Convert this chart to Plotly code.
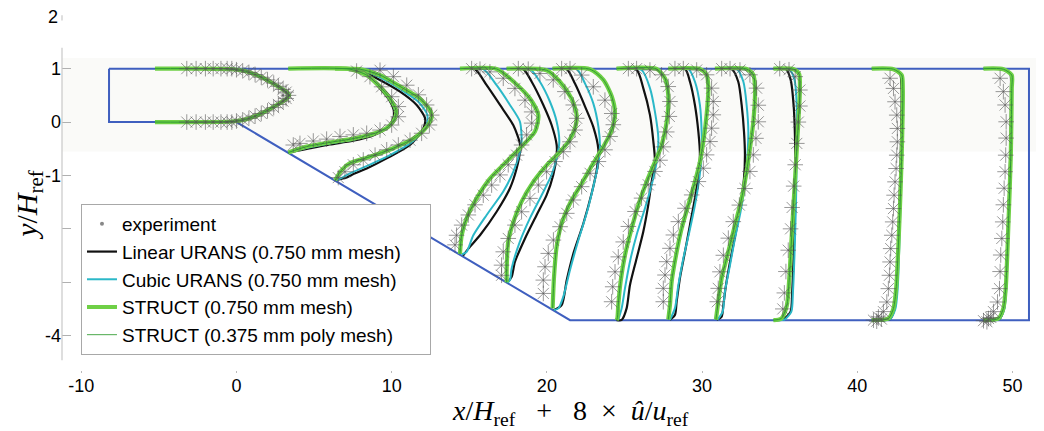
import plotly.graph_objects as go

# ---------------- geometry (channel outline) ----------------
wall_x = [-8.21, -8.21, 0.0, 21.49, 51.06, 51.06, -8.21]
wall_y = [1.0, 0.0, 0.0, -3.71, -3.71, 1.0, 1.0]

# ---------------- profiles: plotted x = x/H + 8*u/u_ref, y = y/H ----------------
# STRUCT (0.750 mm mesh)
struct_x = [
    [-5.25, -0.3, 0.6, 1.6, 2.6, 3.2, 3.4, 3.2, 2.6, 1.6, 0.6, -0.3, -5.25],
    [3.34, 7.31, 8.39, 9.25, 9.89, 10.28, 10.21, 9.78, 8.93, 7.53, 6.03, 4.52, 3.34],
    [6.35, 7.96, 9.25, 10.75, 11.82, 12.47, 12.58, 12.25, 11.4, 10.1, 8.6, 7.31, 6.78, 6.35],
    [14.40, 16.76, 17.84, 18.91, 19.45, 19.23, 18.26, 17.41, 16.33, 15.47, 14.83, 14.51, 14.40],
    [17.41, 19.98, 20.84, 21.59, 21.92, 21.81, 21.38, 20.73, 19.98, 19.12, 18.37, 17.84, 17.51, 17.41, 17.41],
    [20.37, 22.78, 23.64, 24.18, 24.39, 24.18, 23.64, 22.99, 22.24, 21.49, 20.95, 20.63, 20.46, 20.37],
    [24.49, 27.07, 27.61, 27.82, 27.72, 27.39, 26.96, 26.43, 25.89, 25.46, 25.03, 24.75, 24.6, 24.54, 24.49],
    [27.82, 29.86, 30.29, 30.4, 30.29, 30.08, 29.86, 29.54, 29.11, 28.68, 28.32, 28.04, 27.93, 27.82],
    [30.83, 32.87, 33.3, 33.41, 33.3, 33.08, 32.87, 32.55, 32.12, 31.69, 31.26, 31.04, 30.89],
    [34.6, 35.9, 36.25, 36.3, 36.2, 36.0, 35.8, 35.6, 35.45, 35.1, 34.6],
    [40.93, 42.33, 42.86, 42.93, 42.86, 42.71, 42.5, 42.33, 42.0, 40.93],
    [48.13, 49.41, 49.95, 49.95, 49.89, 49.74, 49.56, 49.41, 49.09, 48.13],
]
struct_y = [
    [1.0, 0.99, 0.95, 0.84, 0.68, 0.57, 0.5, 0.43, 0.32, 0.16, 0.05, 0.01, 0.0],
    [1.0, 0.99, 0.88, 0.66, 0.44, 0.22, 0.07, -0.09, -0.21, -0.31, -0.38, -0.46, -0.57],
    [1.0, 0.99, 0.88, 0.63, 0.44, 0.225, 0.10, -0.09, -0.31, -0.49, -0.65, -0.77, -0.90, -1.09],
    [1.0, 0.995, 0.76, 0.44, 0.13, -0.18, -0.49, -0.74, -1.06, -1.43, -1.80, -2.12, -2.47],
    [1.0, 0.97, 0.755, 0.44, 0.13, -0.12, -0.37, -0.59, -0.81, -1.12, -1.49, -1.87, -2.24, -2.74, -3.0],
    [1.0, 0.99, 0.79, 0.48, 0.16, -0.15, -0.46, -0.77, -1.15, -1.52, -1.90, -2.33, -2.90, -3.49],
    [1.0, 0.995, 0.815, 0.505, 0.005, -0.435, -0.745, -1.115, -1.555, -1.995, -2.495, -2.985, -3.425, -3.675, -3.71],
    [1.0, 0.995, 0.885, 0.635, 0.135, -0.365, -0.745, -1.115, -1.555, -1.995, -2.495, -2.985, -3.425, -3.70],
    [1.0, 0.995, 0.885, 0.635, 0.005, -0.495, -0.925, -1.425, -1.925, -2.425, -2.925, -3.365, -3.70],
    [1.0, 0.99, 0.9, 0.6, 0.0, -1.0, -2.0, -3.0, -3.45, -3.68, -3.71],
    [1.0, 0.99, 0.88, 0.63, -0.62, -1.87, -3.12, -3.49, -3.68, -3.71],
    [1.0, 0.99, 0.88, 0.63, -0.62, -1.87, -3.12, -3.49, -3.68, -3.71],
]

# Linear URANS (0.750 mm mesh)
linear_x = [
    [-5.25, -0.3, 0.6, 1.6, 2.6, 3.2, 3.4, 3.2, 2.6, 1.6, 0.6, -0.3, -5.25],
    [3.34, 7.5, 8.45, 9.25, 9.85, 10.15, 10.05, 9.6, 8.8, 7.5, 6.0, 4.6, 3.5, 3.34],
    [6.35, 7.85, 9.03, 10.54, 11.61, 12.15, 12.04, 11.18, 9.68, 8.39, 7.42, 7.1, 6.4],
    [14.40, 15.37, 16.12, 16.98, 17.84, 18.26, 18.26, 18.05, 17.62, 16.76, 15.69, 14.94, 14.6],
    [17.41, 18.48, 19.02, 19.77, 20.31, 20.63, 20.63, 20.41, 19.98, 19.34, 18.59, 17.94, 17.73, 17.45],
    [20.37, 21.28, 21.81, 22.46, 22.99, 23.32, 23.21, 22.89, 22.35, 21.71, 21.28, 20.95, 20.45],
    [24.49, 25.78, 26.21, 26.64, 26.86, 26.96, 26.75, 26.53, 26.21, 25.78, 25.35, 25.14, 24.82, 24.49],
    [27.82, 28.9, 29.22, 29.54, 29.76, 29.86, 29.76, 29.54, 29.22, 28.9, 28.57, 28.36, 28.25, 27.93],
    [30.83, 31.9, 32.33, 32.55, 32.7, 32.76, 32.7, 32.48, 32.18, 31.84, 31.54, 31.37, 31.26, 30.94],
    [34.6, 35.4, 35.7, 35.9, 36.0, 36.0, 35.9, 35.8, 35.7, 35.2, 34.6],
    [40.93, 42.2, 42.75, 42.85, 42.8, 42.68, 42.52, 42.4, 42.1, 40.93],
    [48.13, 49.3, 49.85, 49.9, 49.85, 49.72, 49.58, 49.45, 49.15, 48.13],
]
linear_y = [
    [1.0, 0.99, 0.95, 0.84, 0.68, 0.57, 0.5, 0.43, 0.32, 0.16, 0.05, 0.01, 0.0],
    [1.0, 0.99, 0.86, 0.63, 0.41, 0.2, 0.03, -0.13, -0.25, -0.35, -0.42, -0.5, -0.56, -0.58],
    [1.0, 0.99, 0.82, 0.57, 0.32, 0.07, -0.12, -0.43, -0.68, -0.87, -0.99, -1.04, -1.09],
    [1.0, 0.99, 0.69, 0.32, -0.06, -0.40, -0.56, -0.87, -1.24, -1.68, -2.12, -2.37, -2.50],
    [1.0, 0.99, 0.755, 0.32, -0.06, -0.43, -0.62, -0.99, -1.37, -1.74, -2.18, -2.62, -2.90, -3.01],
    [1.0, 0.99, 0.72, 0.29, -0.09, -0.52, -0.90, -1.33, -1.90, -2.46, -2.96, -3.43, -3.52],
    [1.0, 0.975, 0.635, 0.135, -0.365, -0.745, -1.115, -1.555, -2.055, -2.555, -3.055, -3.485, -3.705, -3.71],
    [1.0, 0.995, 0.755, 0.315, -0.185, -0.615, -0.995, -1.425, -1.925, -2.425, -2.925, -3.365, -3.615, -3.705],
    [1.0, 0.995, 0.755, 0.315, -0.185, -0.615, -1.055, -1.555, -2.055, -2.555, -3.055, -3.425, -3.645, -3.705],
    [1.0, 0.99, 0.8, 0.3, -0.5, -1.5, -2.5, -3.2, -3.55, -3.7, -3.71],
    [1.0, 0.99, 0.9, 0.63, -0.62, -1.87, -3.12, -3.5, -3.69, -3.71],
    [1.0, 0.99, 0.9, 0.63, -0.62, -1.87, -3.12, -3.5, -3.69, -3.71],
]

# Cubic URANS (0.750 mm mesh)
cubic_x = [
    [-5.25, -0.3, 0.6, 1.6, 2.6, 3.2, 3.4, 3.2, 2.6, 1.6, 0.6, -0.3, -5.25],
    [3.34, 7.4, 8.42, 9.25, 9.87, 10.22, 10.13, 9.7, 8.87, 7.5, 6.0, 4.55, 3.34],
    [6.35, 7.92, 9.14, 10.64, 11.72, 12.3, 12.21, 11.29, 9.89, 8.5, 7.31, 6.88, 6.4],
    [14.40, 15.9, 16.76, 17.62, 18.26, 18.37, 18.26, 17.84, 17.19, 16.12, 15.26, 14.83, 14.5],
    [17.41, 18.91, 19.55, 20.2, 20.63, 20.8, 20.67, 20.3, 19.66, 18.91, 18.26, 17.73, 17.62, 17.45],
    [20.37, 21.92, 22.46, 22.99, 23.32, 23.42, 23.32, 22.99, 22.56, 22.03, 21.49, 21.06, 20.74, 20.45],
    [24.49, 26.1, 26.64, 26.96, 27.18, 27.07, 26.75, 26.32, 25.78, 25.35, 25.03, 24.82, 24.6],
    [27.82, 29.11, 29.54, 29.86, 29.97, 29.97, 29.82, 29.54, 29.18, 28.79, 28.47, 28.25, 27.93],
    [30.83, 32.23, 32.66, 32.87, 32.98, 32.91, 32.76, 32.48, 32.12, 31.8, 31.47, 31.32, 30.98],
    [34.6, 35.6, 35.95, 36.1, 36.1, 36.05, 35.95, 35.85, 35.75, 35.3, 34.6],
    [40.93, 42.25, 42.8, 42.9, 42.85, 42.75, 42.6, 42.45, 42.1, 40.93],
    [48.13, 49.35, 49.9, 49.93, 49.87, 49.75, 49.6, 49.47, 49.15, 48.13],
]
cubic_y = [
    [1.0, 0.99, 0.95, 0.84, 0.68, 0.57, 0.5, 0.43, 0.32, 0.16, 0.05, 0.01, 0.0],
    [1.0, 0.99, 0.87, 0.645, 0.425, 0.21, 0.05, -0.11, -0.23, -0.33, -0.4, -0.48, -0.57],
    [1.0, 0.99, 0.85, 0.60, 0.38, 0.13, -0.09, -0.38, -0.62, -0.81, -0.96, -1.03, -1.09],
    [1.0, 0.99, 0.69, 0.32, 0.01, -0.37, -0.56, -0.93, -1.30, -1.74, -2.12, -2.43, -2.48],
    [1.0, 0.99, 0.755, 0.38, 0.007, -0.37, -0.62, -0.99, -1.37, -1.80, -2.24, -2.74, -2.96, -3.01],
    [1.0, 0.99, 0.72, 0.35, -0.09, -0.46, -0.77, -1.21, -1.71, -2.21, -2.77, -3.27, -3.49, -3.52],
    [1.0, 0.975, 0.635, 0.195, -0.305, -0.745, -1.175, -1.615, -2.115, -2.615, -3.115, -3.485, -3.705],
    [1.0, 0.995, 0.755, 0.315, -0.185, -0.615, -1.055, -1.555, -2.055, -2.555, -3.055, -3.485, -3.705],
    [1.0, 0.995, 0.755, 0.315, -0.185, -0.675, -1.175, -1.675, -2.175, -2.675, -3.175, -3.555, -3.705],
    [1.0, 0.99, 0.8, 0.3, -0.5, -1.5, -2.5, -3.2, -3.55, -3.7, -3.71],
    [1.0, 0.99, 0.89, 0.63, -0.62, -1.87, -3.12, -3.5, -3.69, -3.71],
    [1.0, 0.99, 0.89, 0.63, -0.62, -1.87, -3.12, -3.5, -3.69, -3.71],
]

# STRUCT (0.375 mm poly mesh) -- lies on top of the 0.750 mm STRUCT result
fine_x = struct_x
fine_y = struct_y

# experiment
exp_x = [
    [-3.2, -2.6, -2.0, -1.5, -1.0, -0.6, -0.3, 0.0, 0.4, 0.8, 1.2, 1.6, 2.0, 2.4, 2.7, 3.0, 3.2, 3.35,
     3.2, 3.0, 2.7, 2.4, 2.0, 1.6, 1.2, 0.8, 0.4, 0.0, -0.3, -0.6, -1.0, -1.5, -2.0, -2.6, -3.2],
    [7.74, 8.60, 9.35, 10.0, 10.43, 10.43, 10.0, 9.25, 8.39, 7.53, 6.67, 5.81, 4.95, 4.09, 3.66],
    [9.25, 10.11, 10.97, 11.72, 12.25, 12.58, 12.43, 11.93, 11.18, 10.43, 9.68, 8.93, 8.17, 7.53, 6.99, 6.56],
    [15.15, 15.69, 16.33, 17.19, 17.94, 18.59, 19.02, 19.02, 18.69, 18.37, 18.05, 17.51, 16.98, 16.44,
     15.90, 15.37, 14.94, 14.51, 14.18, 14.08],
    [18.16, 18.8, 19.55, 20.41, 21.16, 21.7, 21.92, 21.81, 21.49, 21.06, 20.52, 19.98, 19.45, 18.91,
     18.37, 17.94, 17.51, 17.19, 17.08, 17.08],
    [20.95, 21.49, 22.24, 22.99, 23.74, 24.18, 24.28, 24.07, 23.74, 23.32, 22.78, 22.24, 21.71, 21.28,
     20.85, 20.42, 20.09, 19.88, 19.77, 19.77],
    [25.25, 25.78, 26.64, 27.39, 27.82, 27.93, 27.89, 27.72, 27.5, 27.29, 26.96, 26.53, 26.1, 25.68,
     25.25, 24.92, 24.6, 24.39, 24.24, 24.17],
    [28.25, 28.79, 29.65, 30.29, 30.61, 30.72, 30.72, 30.61, 30.51, 30.29, 30.08, 29.76, 29.33, 28.9,
     28.47, 28.15, 27.93, 27.72, 27.61, 27.5, 27.5],
    [31.26, 31.8, 32.44, 33.08, 33.51, 33.62, 33.62, 33.47, 33.3, 33.08, 32.76, 32.4, 32.01, 31.69,
     31.37, 31.15, 31.04, 30.98],
    [35.0, 35.6, 36.0, 36.3, 36.3, 36.2, 36.1, 36.0, 35.9, 35.8, 35.7, 35.55, 35.4, 35.3, 35.2],
    [42.11, 42.33, 42.43, 42.54, 42.58, 42.58, 42.54, 42.5, 42.43, 42.37, 42.33, 42.28, 42.22, 42.15,
     42.11, 42.07, 42.0, 41.9, 41.68, 41.36, 41.04, 41.25, 41.55],
    [49.2, 49.41, 49.52, 49.59, 49.59, 49.56, 49.52, 49.46, 49.41, 49.37, 49.31, 49.24, 49.2, 49.16,
     49.03, 48.77, 48.45, 48.13, 48.35, 48.6],
]
exp_y = [
    [1, 1, 1, 1, 1, 1, 1, 0.98, 0.96, 0.93, 0.89, 0.84, 0.79, 0.73, 0.67, 0.61, 0.56, 0.5,
     0.44, 0.39, 0.33, 0.27, 0.21, 0.16, 0.11, 0.07, 0.04, 0.02, 0, 0, 0, 0, 0, 0, 0],
    [0.955, 0.85, 0.66, 0.475, 0.29, 0.10, -0.056, -0.15, -0.21, -0.24, -0.27, -0.32, -0.355, -0.40, -0.43],
    [0.97, 0.85, 0.69, 0.51, 0.32, 0.13, -0.055, -0.21, -0.34, -0.43, -0.52, -0.62, -0.71, -0.80, -0.93, -1.04],
    [1.0, 0.99, 0.94, 0.82, 0.63, 0.41, 0.19, -0.02, -0.24, -0.43, -0.62, -0.80, -0.99, -1.18,
     -1.37, -1.55, -1.74, -1.93, -2.12, -2.30],
    [1.0, 0.99, 0.91, 0.79, 0.57, 0.32, 0.07, -0.15, -0.37, -0.555, -0.74, -0.93, -1.18, -1.43,
     -1.68, -1.93, -2.18, -2.43, -2.68, -2.87],
    [1.0, 1.0, 0.88, 0.66, 0.41, 0.16, -0.05, -0.27, -0.52, -0.74, -0.96, -1.21, -1.46, -1.71,
     -1.96, -2.21, -2.46, -2.71, -2.96, -3.21],
    [1.0, 1.0, 0.975, 0.885, 0.665, 0.385, 0.105, -0.185, -0.465, -0.715, -0.925, -1.175, -1.425, -1.675,
     -1.955, -2.245, -2.525, -2.805, -3.085, -3.365],
    [1.0, 1.0, 0.975, 0.885, 0.635, 0.385, 0.135, -0.115, -0.365, -0.615, -0.865, -1.115, -1.365, -1.615,
     -1.865, -2.115, -2.365, -2.615, -2.865, -3.115, -3.365],
    [1.0, 1.0, 0.975, 0.885, 0.635, 0.315, 0.005, -0.305, -0.615, -0.925, -1.245, -1.555, -1.865, -2.175,
     -2.495, -2.805, -3.115, -3.365],
    [1.0, 0.98, 0.85, 0.6, 0.3, 0.0, -0.4, -0.8, -1.2, -1.6, -2.0, -2.4, -2.8, -3.2, -3.5],
    [0.82, 0.63, 0.38, 0.13, -0.12, -0.37, -0.62, -0.87, -1.12, -1.37, -1.62, -1.87, -2.12, -2.37,
     -2.62, -2.87, -3.12, -3.37, -3.55, -3.65, -3.71, -3.73, -3.69],
    [0.82, 0.57, 0.32, 0.005, -0.3, -0.62, -0.93, -1.24, -1.55, -1.87, -2.18, -2.49, -2.8, -3.12,
     -3.37, -3.55, -3.68, -3.72, -3.74, -3.66],
]

x_ticks = [-10, 0, 10, 20, 30, 40, 50]
x_ticktext = ["-10", "0", "10", "20", "30", "40", "50"]
y_ticks = [-4, -3, -2, -1, 0, 1, 2]
y_ticktext = ["-4", "", "", "-1", "0", "1", ""]
y_top_label = "2"


def join(lists):
    out = []
    for i, seg in enumerate(lists):
        if i:
            out.append(None)
        out.extend(seg)
    return out


FONT = "Liberation Sans, Arial, sans-serif"
SERIF = "Liberation Serif, DejaVu Serif, serif"
PAD = "&nbsp;" * 6

fig = go.Figure()

# faint band of the scanned original
fig.add_shape(type="rect", xref="paper", yref="y", x0=0, x1=1, y0=-0.55, y1=1.2,
              fillcolor="#fafaf8", line_width=0, layer="below")

fig.add_trace(go.Scatter(x=wall_x, y=wall_y, mode="lines", line=dict(color="#3f5fbf", width=2),
                         showlegend=False, hoverinfo="skip"))

fig.add_trace(go.Scatter(x=join(linear_x), y=join(linear_y), mode="lines",
                         line=dict(color="#111111", width=2.2, shape="spline", smoothing=0.7),
                         name="Linear URANS (0.750 mm mesh)", showlegend=False))
fig.add_trace(go.Scatter(x=join(cubic_x), y=join(cubic_y), mode="lines",
                         line=dict(color="#2bb8c8", width=2, shape="spline", smoothing=0.7),
                         name="Cubic URANS (0.750 mm mesh)", showlegend=False))
fig.add_trace(go.Scatter(x=join(struct_x), y=join(struct_y), mode="lines",
                         line=dict(color="#6fd046", width=4.2, shape="spline", smoothing=0.7),
                         name="STRUCT (0.750 mm mesh)", showlegend=False))
fig.add_trace(go.Scatter(x=join(fine_x), y=join(fine_y), mode="lines",
                         line=dict(color="#2f9a35", width=1, shape="spline", smoothing=0.7),
                         name="STRUCT (0.375 mm poly mesh)", showlegend=False))
fig.add_trace(go.Scatter(x=join(exp_x), y=join(exp_y), mode="markers",
                         marker=dict(symbol="asterisk-open", size=13, color="rgba(85,85,85,0.6)",
                                     line=dict(color="rgba(85,85,85,0.6)", width=1)),
                         name="experiment", showlegend=False))

# legend entries
fig.add_trace(go.Scatter(x=[None], y=[None], mode="markers", name="experiment",
                         marker=dict(symbol="circle", size=4, color="#888888")))
fig.add_trace(go.Scatter(x=[None], y=[None], mode="lines", name="Linear URANS (0.750 mm mesh)",
                         line=dict(color="#111111", width=2.2)))
fig.add_trace(go.Scatter(x=[None], y=[None], mode="lines", name="Cubic URANS (0.750 mm mesh)",
                         line=dict(color="#2bb8c8", width=2)))
fig.add_trace(go.Scatter(x=[None], y=[None], mode="lines", name="STRUCT (0.750 mm mesh)",
                         line=dict(color="#6fd046", width=4)))
fig.add_trace(go.Scatter(x=[None], y=[None], mode="lines", name="STRUCT (0.375 mm poly mesh)" + PAD,
                         line=dict(color="#4aa84a", width=1)))

# y-axis spine (partial, as in the original)
fig.add_shape(type="line", xref="paper", yref="y", x0=0, x1=0, y0=-4.46, y1=1.39,
              line=dict(color="#c8c8c8", width=1.2))
fig.add_shape(type="line", xref="paper", yref="y", x0=0, x1=0, y0=1.9, y1=2.0,
              line=dict(color="#c8c8c8", width=1.2))

# the page body adds an 8 px margin, so the figure is sized 8 px smaller and shifted margins
fig.update_layout(
    width=1036, height=423,
    margin=dict(l=54, r=4, t=7, b=58, autoexpand=False),
    plot_bgcolor="white", paper_bgcolor="white",
    showlegend=True,
    legend=dict(x=0.0194, y=0.472, xanchor="left", yanchor="top",
                bgcolor="white", bordercolor="#a8a8a8", borderwidth=1,
                font=dict(family=FONT, size=19, color="black"),
                tracegroupgap=0, itemwidth=30),
    xaxis=dict(range=[-11.24, 51.77], tickvals=x_ticks, ticktext=x_ticktext, ticks="inside", ticklen=2,
               tickcolor="#bbbbbb", showline=False, showgrid=False, zeroline=False, automargin=False,
               tickfont=dict(family=FONT, size=18, color="black")),
    yaxis=dict(range=[-4.70, 2.005], tickvals=y_ticks, ticktext=y_ticktext, ticks="inside",
               ticklen=9, tickcolor="#b0b0b0", showline=False, showgrid=False, zeroline=False,
               automargin=False, tickfont=dict(family=FONT, size=18, color="black")),
    annotations=[
        dict(text=y_top_label, xref="paper", yref="y", x=0, y=2, xanchor="right", yanchor="middle",
             xshift=-3, yshift=-2, height=16, borderpad=0, showarrow=False,
             font=dict(family=FONT, size=18, color="black")),
        dict(text="<i>x</i>/<i>H</i><sub>ref</sub>&nbsp;&nbsp; + &nbsp;&nbsp;8 &nbsp;× &nbsp;<i>û</i>/<i>u</i><sub>ref</sub>",
             xref="paper", yref="paper", x=0.52, y=-0.11, xanchor="center", yanchor="middle",
             showarrow=False, font=dict(family=SERIF, size=28, color="black")),
        dict(text="<i>y</i>/<i>H</i><sub>ref</sub>", xref="paper", yref="paper",
             x=-0.034, y=0.469, xanchor="center", yanchor="middle", textangle=-90,
             showarrow=False, font=dict(family=SERIF, size=30, color="black")),
    ],
)

fig.write_html("out.html")
